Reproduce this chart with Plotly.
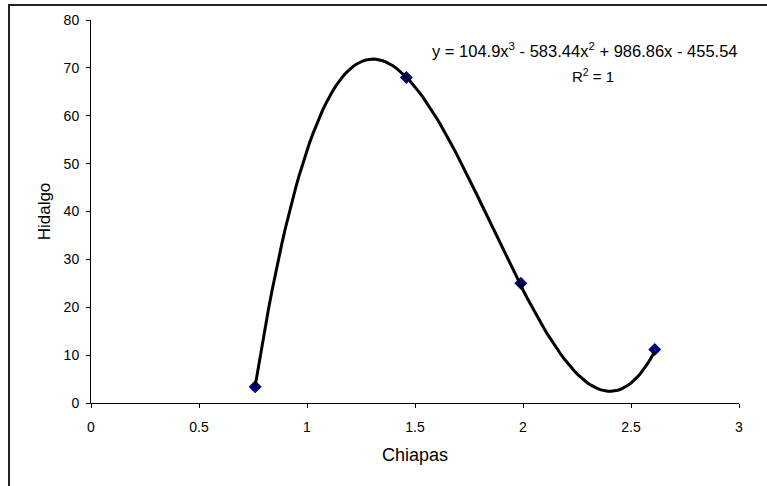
import numpy as np
import plotly.graph_objects as go

# Data points
chiapas = [0.76, 1.46, 1.99, 2.61]
hidalgo = [3.4, 68.0, 25.0, 11.2]

# Trendline coefficients (as displayed on the chart)
coef = [104.9, -583.44, 986.86, -455.54]
eq_text = "y = 104.9x<sup>3</sup> - 583.44x<sup>2</sup> + 986.86x - 455.54"
r2_text = "R<sup>2</sup> = 1"

x_ticks = [0, 0.5, 1, 1.5, 2, 2.5, 3]
x_tick_labels = ["0", "0.5", "1", "1.5", "2", "2.5", "3"]
y_ticks = [0, 10, 20, 30, 40, 50, 60, 70, 80]

# trendline evaluated over data range
xt = np.linspace(min(chiapas), max(chiapas), 120)
yt = np.polyval(coef, xt)

FONT = "Arial, Liberation Sans, sans-serif"
W, H = 767, 486
L, R, T, B = 91, 28, 20, 83

fig = go.Figure()
fig.add_trace(go.Scatter(
    x=chiapas, y=hidalgo, mode="markers",
    marker=dict(symbol="diamond", size=10, color="#000080"),
    showlegend=False, hoverinfo="x+y"))
fig.add_trace(go.Scatter(
    x=xt, y=yt, mode="lines",
    line=dict(color="black", width=3),
    showlegend=False, hoverinfo="skip"))

pw = W - L - R
ph = H - T - B
def px2paper_x(px):
    return (px - L) / pw
def px2paper_y(py):
    return (H - B - py) / ph

fig.add_shape(type="rect", xref="paper", yref="paper",
              x0=px2paper_x(9), x1=px2paper_x(775),
              y0=px2paper_y(495), y1=px2paper_y(5),
              line=dict(color="#222222", width=2), layer="above")

fig.add_annotation(x=px2paper_x(585), y=px2paper_y(50), xref="paper", yref="paper",
                   text=eq_text, showarrow=False,
                   font=dict(family=FONT, size=16.5, color="black"),
                   xanchor="center", yanchor="middle")
fig.add_annotation(x=px2paper_x(593), y=px2paper_y(76), xref="paper", yref="paper",
                   text=r2_text, showarrow=False,
                   font=dict(family=FONT, size=15, color="black"),
                   xanchor="center", yanchor="middle")

fig.update_layout(
    width=W, height=H,
    margin=dict(l=L, r=R, t=T, b=B, pad=0),
    paper_bgcolor="white", plot_bgcolor="white",
    font=dict(family=FONT, color="black"),
    xaxis=dict(range=[0, 3], tickvals=x_ticks, ticktext=x_tick_labels,
               showgrid=False, zeroline=False, showline=True,
               linecolor="black", linewidth=1,
               ticks="outside", ticklen=4, tickcolor="black", tickwidth=1,
               tickfont=dict(size=14, family=FONT, color="black"), ticklabelstandoff=7,
               title=dict(text="Chiapas", font=dict(size=18, family=FONT, color="black"), standoff=14)),
    yaxis=dict(range=[0, 80], tickvals=y_ticks,
               showgrid=False, zeroline=False, showline=True,
               linecolor="black", linewidth=1,
               ticks="outside", ticklen=4, tickcolor="black", tickwidth=1,
               tickfont=dict(size=14, family=FONT, color="black"), ticklabelstandoff=4,
               title=dict(text="Hidalgo", font=dict(size=17, family=FONT, color="black"), standoff=8)),
)

fig.write_html("out.html")
